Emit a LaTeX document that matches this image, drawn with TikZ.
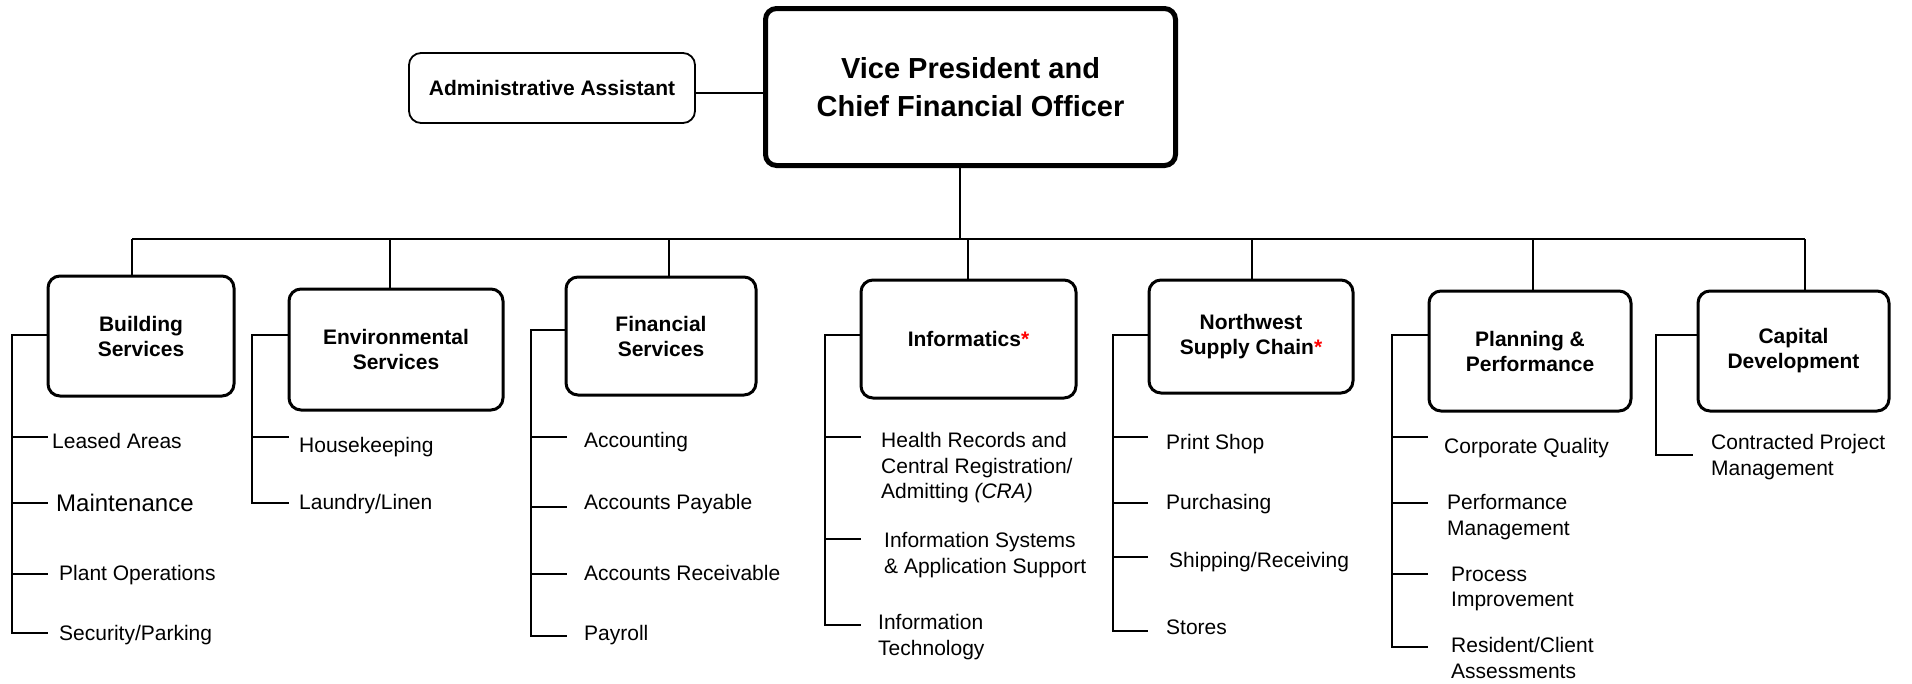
\documentclass[tikz,border=0pt]{standalone}
\usepackage{fontspec}
\setmainfont{Liberation Sans}
\newcommand\subfnt{\fontsize{21}{25.5}\selectfont}
\newcommand\boxfnt{\fontsize{21}{25}\selectfont\bfseries}
\begin{document}
\begin{tikzpicture}[x=1pt,y=-1pt,
 box/.style={draw, line width=3pt, rounded corners=12pt, align=center, font=\boxfnt, inner sep=0pt, outer sep=0pt},
 vpbox/.style={box, line width=5pt, rounded corners=11pt, font=\fontsize{29}{38}\selectfont\bfseries},
 adminbox/.style={box, line width=1.8pt},
 sub/.style={anchor=north west, align=left, font=\subfnt, inner sep=0pt},
 conn/.style={line width=1.6pt},
 thinconn/.style={line width=1.2pt},
 bus/.style={line width=2pt},
 brk/.style={line width=2pt},
 tick/.style={line width=1.3pt}]
\useasboundingbox (0,0) rectangle (1912,683);

% top
\node[vpbox, minimum width=410, minimum height=157] (vp) at (970.5,87) {Vice President and\\Chief Financial Officer};
\node[adminbox, minimum width=286, minimum height=70] (admin) at (552,88) {Administrative Assistant};
\coordinate (al) at (0,93);
\draw[thinconn] (admin.east |- al) -- (vp.west |- al);

% department boxes
\node[box, minimum width=186, minimum height=120] (bld) at (141,336) {Building\\Services};
\node[box, minimum width=214, minimum height=121] (env) at (396,349.5) {Environmental\\Services};
\node[box, minimum width=190, minimum height=118] (fin) at (661,336) {Financial\\Services};
\node[box, minimum width=215, minimum height=118] (inf) at (968.5,339) {Informatics\textcolor{red}{*}};
\node[box, minimum width=204, minimum height=113] (nw) at (1251,336.5) {Northwest\\Supply Chain\textcolor{red}{*}};
\node[box, minimum width=202, minimum height=120] (pln) at (1530,351) {Planning \&\\Performance};
\node[box, minimum width=191, minimum height=120] (cap) at (1793.5,351) {Capital\\Development};

% bus and drops
\coordinate (d0) at (960,239);
\coordinate (d1) at (132,239);
\coordinate (d2) at (390,239);
\coordinate (d3) at (669,239);
\coordinate (d4) at (968,239);
\coordinate (d5) at (1252,239);
\coordinate (d6) at (1533,239);
\coordinate (d7) at (1805,239);
\draw[conn] (vp.south -| d0) -- (d0);
\draw[bus] (d1) -- (d7);
\draw[conn] (d1) -- (d1 |- bld.north);
\draw[conn] (d2) -- (d2 |- env.north);
\draw[conn] (d3) -- (d3 |- fin.north);
\draw[conn] (d4) -- (d4 |- inf.north);
\draw[conn] (d5) -- (d5 |- nw.north);
\draw[conn] (d6) -- (d6 |- pln.north);
\draw[conn] (d7) -- (d7 |- cap.north);

% Building Services
\draw[brk] (bld.west |- 0,335) -| (12,633) -- (48,633);
\draw[tick] (12,437) -- (48,437);
\draw[tick] (12,503) -- (48,503);
\draw[tick] (12,574) -- (48,574);
\node[sub] (b1) at (52,433.5) {Leased Areas};
\node[sub, font=\fontsize{24}{28}\selectfont] (b2) at (56,494) {Maintenance};
\node[sub] (b3) at (59,565.5) {Plant Operations};
\node[sub] (b4) at (59,625.5) {Security/Parking};

% Environmental Services
\draw[brk] (env.west |- 0,335) -| (252,503) -- (289,503);
\draw[tick] (252,437) -- (289,437);
\node[sub] (e1) at (299,437.5) {Housekeeping};
\node[sub] (e2) at (299,494.5) {Laundry/Linen};

% Financial Services
\draw[brk] (fin.west |- 0,330) -| (531,636) -- (567,636);
\draw[tick] (531,437) -- (567,437);
\draw[tick] (531,507) -- (567,507);
\draw[tick] (531,574) -- (567,574);
\node[sub] (f1) at (584,432.5) {Accounting};
\node[sub] (f2) at (584,494.5) {Accounts Payable};
\node[sub] (f3) at (584,565.5) {Accounts Receivable};
\node[sub] (f4) at (584,625.5) {Payroll};

% Informatics
\draw[brk] (inf.west |- 0,335) -| (825,625) -- (861,625);
\draw[tick] (825,437) -- (861,437);
\draw[tick] (825,539) -- (861,539);
\node[sub] (i1) at (881,432.5) {Health Records and\\Central Registration/\\Admitting \textit{(CRA)}};
\node[sub] (i2) at (884,532.5) {Information Systems\\\& Application Support};
\node[sub] (i3) at (878,614.5) {Information\\Technology};

% Northwest Supply Chain
\draw[brk] (nw.west |- 0,335) -| (1113,631) -- (1148,631);
\draw[tick] (1113,437) -- (1148,437);
\draw[tick] (1113,503) -- (1148,503);
\draw[tick] (1113,557) -- (1148,557);
\node[sub] (n1) at (1166,434.5) {Print Shop};
\node[sub] (n2) at (1166,494.5) {Purchasing};
\node[sub] (n3) at (1169,552.5) {Shipping/Receiving};
\node[sub] (n4) at (1166,619.5) {Stores};

% Planning & Performance
\draw[brk] (pln.west |- 0,335) -| (1392,647) -- (1428,647);
\draw[tick] (1392,437) -- (1428,437);
\draw[tick] (1392,503) -- (1428,503);
\draw[tick] (1392,574) -- (1428,574);
\node[sub] (p1) at (1444,438.5) {Corporate Quality};
\node[sub] (p2) at (1447,494.5) {Performance\\Management};
\node[sub] (p3) at (1451,566.5) {Process\\Improvement};
\node[sub] (p4) at (1451,637.5) {Resident/Client\\Assessments};

% Capital Development
\draw[brk] (cap.west |- 0,335) -| (1656,455) -- (1693,455);
\node[sub] (c1) at (1711,434.5) {Contracted Project\\Management};
\end{tikzpicture}
\end{document}
